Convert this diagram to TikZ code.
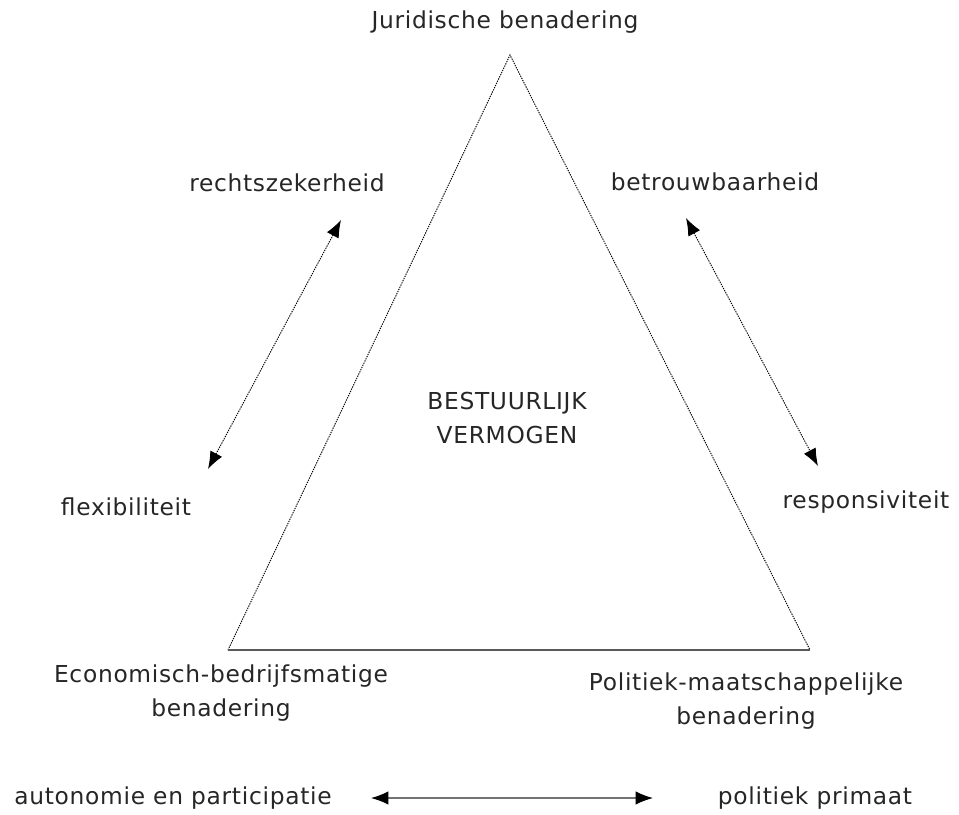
\documentclass[tikz,border=0pt]{standalone}
\usepackage{fontspec}
\setmainfont[LetterSpace=3]{DejaVu Sans}
\usepackage{tikz}
\usetikzlibrary{arrows.meta}

\begin{document}
\begin{tikzpicture}[x=0.75pt, y=-0.75pt, >={Latex[length=13pt,width=10pt,black]},
    lbl/.style={font=\fontsize{17.5}{25.5}\selectfont, text=black!85, align=center, inner sep=0pt},
    side/.style={line width=0.7pt, dash pattern=on 1pt off 0.8pt, black},
    pull/.style={line width=0.7pt, dash pattern=on 1pt off 0.8pt, black, <->}]
    \useasboundingbox (0,0) rectangle (959,814);

    % Coordinates
    \coordinate (top) at (510,55);
    \coordinate (left) at (228,650);
    \coordinate (right) at (810,650);
    \coordinate (A1) at (341,220);
    \coordinate (A2) at (208,469);
    \coordinate (B1) at (686,218);
    \coordinate (B2) at (818,466);
    \coordinate (C1) at (371,798);
    \coordinate (C2) at (653,798);

    % Triangle
    \draw[side] (left) -- (top) -- (right);
    \draw[line width=0.8pt, black!65] (left) -- (right);

    % Text
    \node[lbl] (jur) at (505,22) {Juridische benadering};
    \node[lbl] (rz) at (287,183) {rechtszekerheid};
    \node[lbl] (bt) at (715,182) {betrouwbaarheid};
    \node[lbl] (bv) at (507,418) {BESTUURLIJK\\VERMOGEN};
    \node[lbl] (flex) at (126,507) {flexibiliteit};
    \node[lbl] (resp) at (866,502) {responsiviteit};
    \node[lbl] (eco) at (221,693) {Economisch-bedrijfsmatige\\benadering};
    \node[lbl] (pol) at (746,701) {Politiek-maatschappelijke\\benadering};
    \node[lbl] (aut) at (173,798) {autonomie en participatie};
    \node[lbl] (prim) at (815,798) {politiek primaat};

    % Arrows
    \draw[pull] (A2) -- (A1);
    \draw[pull] (B1) -- (B2);
    \draw[<->, line width=0.9pt, black!55] (C1) -- (C2);
\end{tikzpicture}
\end{document}
